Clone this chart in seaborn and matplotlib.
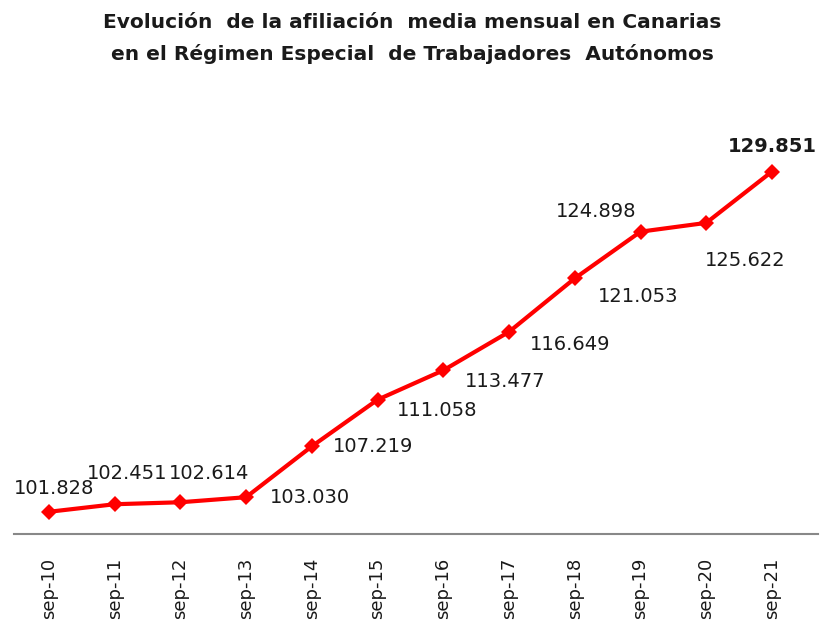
import pandas as pd
import seaborn as sns
import matplotlib.pyplot as plt

periods = ["sep-10", "sep-11", "sep-12", "sep-13", "sep-14", "sep-15",
           "sep-16", "sep-17", "sep-18", "sep-19", "sep-20", "sep-21"]
afiliados = [101828, 102451, 102614, 103030, 107219, 111058,
             113477, 116649, 121053, 124898, 125622, 129851]
etiquetas = ["101.828", "102.451", "102.614", "103.030", "107.219", "111.058",
             "113.477", "116.649", "121.053", "124.898", "125.622", "129.851"]

df = pd.DataFrame({"periodo": periods, "afiliados": afiliados})
df["pos"] = range(len(df))

sns.set_style("white")
plt.rcParams["font.family"] = ["DejaVu Sans"]

fig = plt.figure(figsize=(8.32, 6.28), dpi=100)
ax = fig.add_axes([14 / 832, 1 - 534 / 628, (818 - 14) / 832, (534 - 109) / 628])

sns.lineplot(data=df, x="pos", y="afiliados", ax=ax, color="#ff0000",
             linewidth=3, marker="D", markersize=8, markeredgewidth=0)

# label offsets in pixels from each point (text centre)
offsets = [(5, 23), (13, 31), (29, 29), (64, 0), (61, 0), (60, -11),
           (62, -11), (61, -13), (63, -18), (-44, 20), (39, -38), (0, 25)]

for i, (val, txt) in enumerate(zip(afiliados, etiquetas)):
    dx, dy = offsets[i]
    ax.annotate(txt, (i, val), xytext=(dx, dy), textcoords="offset pixels",
                ha="center", va="center", fontsize=14, color="#1a1a1a",
                fontweight="bold" if i == len(afiliados) - 1 else "normal")

ax.set_xlim(-0.53, 11.7)
ax.set_ylim(100000, 135000)
ax.set_xticks(df["pos"])
ax.set_xticklabels(periods, rotation=90, fontsize=13, color="#1a1a1a")
ax.tick_params(axis="x", length=0, pad=17)
ax.set_yticks([])
ax.set_xlabel("")
ax.set_ylabel("")
for side in ["top", "right", "left"]:
    ax.spines[side].set_visible(False)
ax.spines["bottom"].set_color("#888888")
ax.spines["bottom"].set_linewidth(1.5)

fig.suptitle("Evolución  de la afiliación  media mensual en Canarias\n"
             "en el Régimen Especial  de Trabajadores  Autónomos",
             x=412 / 832, y=0.98, fontsize=14.5, fontweight="bold",
             linespacing=1.75, color="#1a1a1a")

fig.savefig("out.png", dpi=100)
